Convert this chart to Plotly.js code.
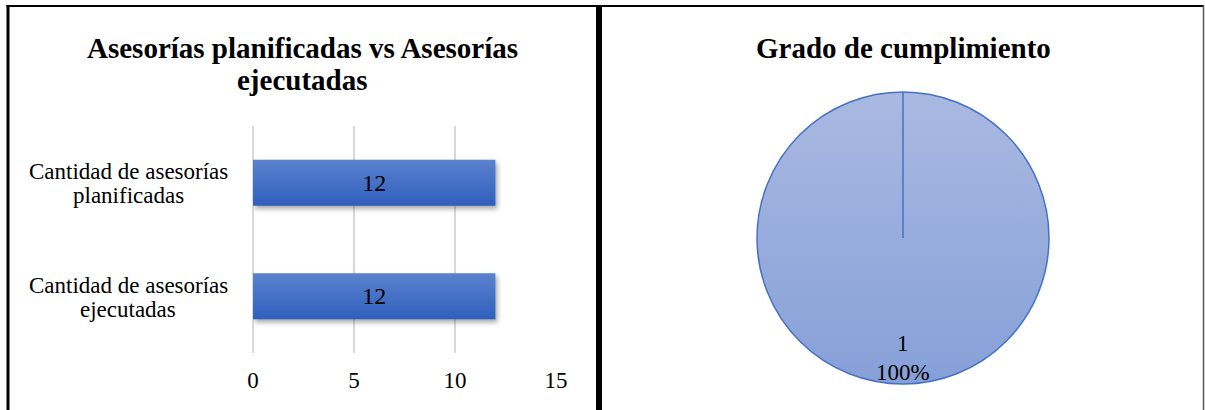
<!DOCTYPE html>
<html>
<head>
<meta charset="utf-8">
<script src="https://cdn.plot.ly/plotly-3.0.1.min.js"></script>
<style>
  html, body { margin: 0; padding: 0; background: #ffffff; }
  #chart { width: 1205px; height: 410px; }
</style>
</head>
<body>
<div id="chart"></div>
<script>
// Bar chart: planned vs executed advisory sessions
const barCategories = ['Cantidad de asesorías planificadas', 'Cantidad de asesorías ejecutadas'];
const barCategoryLines = [['Cantidad de asesorías', 'planificadas'], ['Cantidad de asesorías', 'ejecutadas']];
const barValues = [12, 12];
const xTickValues = [0, 5, 10, 15];
const xTickLabels = ['0', '5', '10', '15'];
const barTitleLines = ['Asesorías planificadas vs Asesorías', 'ejecutadas'];

// Pie chart: degree of fulfilment
const pieLabels = ['Cumplimiento'];
const pieValues = [1];
const pieTitle = 'Grado de cumplimiento';

const W = 1205, H = 410;
const px = x => x / W;
const py = y => 1 - y / H;
const SERIF = 'Liberation Serif, Times New Roman, serif';

// pie placement
const pieDomX = [px(757), px(1049)];
const pieDomY = [py(384), py(92)];
const pieCx = (pieDomX[0] + pieDomX[1]) / 2;
const pieCy = (pieDomY[0] + pieDomY[1]) / 2;
const pieRpx = Math.min((pieDomX[1] - pieDomX[0]) * W, (pieDomY[1] - pieDomY[0]) * H) / 2;

const pieTotal = pieValues.reduce((a, b) => a + b, 0);
const pieTextLines = [String(pieValues[0]), Math.round(pieValues[0] / pieTotal * 100) + '%'];

const traces = [
  {
    type: 'bar',
    orientation: 'h',
    y: barCategories,
    x: barValues,
    width: 0.405,
    marker: { color: '#4472c4', line: { width: 0 } },
    text: barValues.map(String),
    textposition: 'inside',
    insidetextanchor: 'middle',
    textfont: { family: SERIF, size: 24, color: '#000000' },
    hoverinfo: 'none',
    showlegend: false,
    xaxis: 'x',
    yaxis: 'y'
  },
  {
    type: 'pie',
    labels: pieLabels,
    values: pieValues,
    domain: { x: pieDomX, y: pieDomY },
    sort: false,
    direction: 'clockwise',
    rotation: 0,
    textinfo: 'none',
    marker: { colors: ['#9aacdb'], line: { color: '#4472c4', width: 1.5 } },
    hoverinfo: 'none',
    showlegend: false
  }
];

const txt = (x, y, text, size, extra) => Object.assign({
  xref: 'paper', yref: 'paper', x: x, y: y,
  xanchor: 'center', yanchor: 'middle', align: 'center',
  text: text, showarrow: false,
  font: { family: SERIF, size: size, color: '#000000' }
}, extra || {});

const annotations = [
  txt(px(302), py(48), '<b>' + barTitleLines[0] + '</b>', 29),
  txt(px(302), py(80), '<b>' + barTitleLines[1] + '</b>', 29),
  txt(px(903), py(48), '<b>' + pieTitle + '</b>', 29),
  txt(pieCx, py(343), pieTextLines[0], 23),
  txt(pieCx, py(372), pieTextLines[1], 23)
];
// category labels, two centred lines around each bar
barCategories.forEach((c, i) => {
  annotations.push(txt(px(128), c, barCategoryLines[i][0], 23, { yref: 'y', yshift: 11 }));
  annotations.push(txt(px(128), c, barCategoryLines[i][1], 23, { yref: 'y', yshift: -13 }));
});

const shapes = [
  // table frame
  { type: 'line', xref: 'paper', yref: 'paper', x0: px(6.5), x1: px(1204), y0: py(6), y1: py(6), line: { color: '#000000', width: 2 } },
  { type: 'line', xref: 'paper', yref: 'paper', x0: px(8), x1: px(8), y0: py(5), y1: py(412), line: { color: '#000000', width: 3 } },
  { type: 'line', xref: 'paper', yref: 'paper', x0: px(599), x1: px(599), y0: py(5), y1: py(412), line: { color: '#000000', width: 6 } },
  { type: 'line', xref: 'paper', yref: 'paper', x0: px(1203.5), x1: px(1203.5), y0: py(5), y1: py(412), line: { color: '#555555', width: 1.5 } },
  // radial edge of the single full slice
  { type: 'line', xref: 'paper', yref: 'paper', x0: pieCx, x1: pieCx, y0: pieCy, y1: pieCy + pieRpx / H, line: { color: '#4472c4', width: 1.5 } }
];

const layout = {
  width: W, height: H,
  margin: { l: 0, r: 0, t: 0, b: 0, pad: 0 },
  paper_bgcolor: '#ffffff',
  plot_bgcolor: 'rgba(0,0,0,0)',
  font: { family: SERIF, color: '#000000' },
  showlegend: false,
  xaxis: {
    domain: [px(253), px(556)],
    range: [0, 15],
    tickmode: 'array', tickvals: xTickValues, ticktext: xTickLabels,
    showgrid: true, gridcolor: '#d9d9d9', gridwidth: 1.3,
    zeroline: true, zerolinecolor: '#d9d9d9', zerolinewidth: 1.3,
    showline: false, ticks: '', ticklabelstandoff: 11,
    tickfont: { family: SERIF, size: 23, color: '#000000' },
    fixedrange: true
  },
  yaxis: {
    domain: [py(353), py(126)],
    type: 'category',
    autorange: 'reversed',
    showticklabels: false, showgrid: false, zeroline: false, showline: false, ticks: '',
    fixedrange: true
  },
  annotations: annotations,
  shapes: shapes
};

Plotly.newPlot('chart', traces, layout, { displayModeBar: false, staticPlot: true }).then(gd => {
  // vertical gradients and soft shadow, as in the office-style rendering
  const svg = gd.querySelector('svg.main-svg');
  const NS = 'http://www.w3.org/2000/svg';
  let defs = svg.querySelector('defs');
  if (!defs) { defs = document.createElementNS(NS, 'defs'); svg.insertBefore(defs, svg.firstChild); }
  const addGrad = (id, top, bottom) => {
    const g = document.createElementNS(NS, 'linearGradient');
    g.setAttribute('id', id);
    g.setAttribute('x1', '0'); g.setAttribute('y1', '0');
    g.setAttribute('x2', '0'); g.setAttribute('y2', '1');
    [[0, top], [1, bottom]].forEach(([o, c]) => {
      const s = document.createElementNS(NS, 'stop');
      s.setAttribute('offset', o); s.setAttribute('stop-color', c);
      g.appendChild(s);
    });
    defs.appendChild(g);
  };
  addGrad('barGrad', '#5b82cf', '#2f5fbd');
  addGrad('pieGrad', '#aab9e1', '#86a0d8');
  gd.querySelectorAll('.bars .point path').forEach(p => {
    p.style.fill = 'url(#barGrad)';
    p.style.filter = 'drop-shadow(2px 3px 2.5px rgba(0,0,0,0.35))';
  });
  gd.querySelectorAll('.pielayer .slice path.surface').forEach(p => {
    p.style.fill = 'url(#pieGrad)';
  });
});
</script>
</body>
</html>
